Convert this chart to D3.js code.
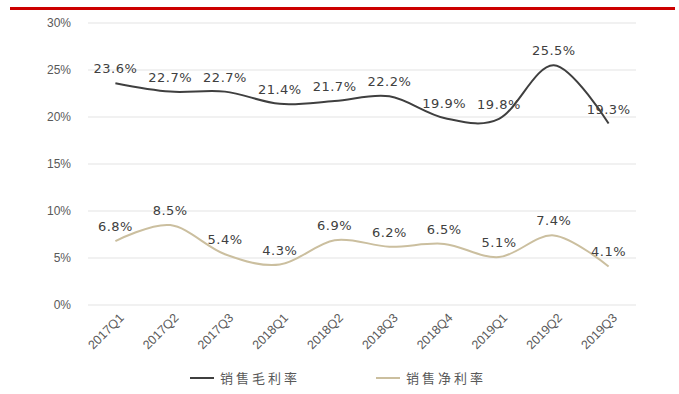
<!DOCTYPE html>
<html>
<head>
<meta charset="utf-8">
<script src="https://cdn.jsdelivr.net/npm/d3@7"></script>
<style>
  body { margin: 0; background: #fff; }
</style>
</head>
<body>
<div id="chart"></div>
<script>
const quarters = ["2017Q1", "2017Q2", "2017Q3", "2018Q1", "2018Q2", "2018Q3", "2018Q4", "2019Q1", "2019Q2", "2019Q3"];
const grossMargin = [23.6, 22.7, 22.7, 21.4, 21.7, 22.2, 19.9, 19.8, 25.5, 19.3];
const netMargin = [6.8, 8.5, 5.4, 4.3, 6.9, 6.2, 6.5, 5.1, 7.4, 4.1];
const yTicks = [0, 5, 10, 15, 20, 25, 30];
const seriesNames = ["销售毛利率", "销售净利率"];

const width = 679, height = 394;
const margin = { top: 23, right: 43, bottom: 89, left: 88 };

const svg = d3.select("#chart").append("svg")
  .attr("width", width)
  .attr("height", height)
  .style("font-family", "'DejaVu Sans', sans-serif");

// red rule at the top
svg.append("rect")
  .attr("x", 10).attr("y", 7)
  .attr("width", 665).attr("height", 3)
  .attr("fill", "#cc0000");

const x = d3.scaleBand()
  .domain(quarters)
  .range([margin.left, width - margin.right]);

const y = d3.scaleLinear()
  .domain([0, 30])
  .range([height - margin.bottom, margin.top]);

// gridlines
svg.append("g")
  .selectAll("line")
  .data(yTicks)
  .join("line")
  .attr("x1", margin.left)
  .attr("x2", width - margin.right)
  .attr("y1", d => y(d))
  .attr("y2", d => y(d))
  .attr("stroke", "#e3e3e3")
  .attr("stroke-width", 1);

// y axis labels
const yAxis = svg.append("g")
  .attr("transform", `translate(${margin.left - 14},0)`)
  .call(d3.axisLeft(y).tickValues(yTicks).tickFormat(d => d + "%").tickSize(0));
yAxis.select(".domain").remove();
yAxis.selectAll("text")
  .attr("fill", "#595959")
  .style("font-size", "12px");

// x axis labels
const xAxis = svg.append("g")
  .attr("transform", `translate(0,${y(0) + 8})`)
  .call(d3.axisBottom(x).tickSize(0));
xAxis.select(".domain").remove();
xAxis.selectAll("text")
  .attr("fill", "#595959")
  .style("font-size", "12.5px")
  .attr("text-anchor", "end")
  .attr("dx", "0.2em")
  .attr("dy", "0.6em")
  .attr("transform", "rotate(-45)");

const line = d3.line()
  .x((d, i) => x(quarters[i]) + x.bandwidth() / 2)
  .y(d => y(d))
  .curve(d3.curveCatmullRom.alpha(0));

const series = [
  { name: seriesNames[0], values: grossMargin, color: "#3f3f3f" },
  { name: seriesNames[1], values: netMargin, color: "#cbbf9f" },
];

series.forEach(s => {
  svg.append("path")
    .datum(s.values)
    .attr("fill", "none")
    .attr("stroke", s.color)
    .attr("stroke-width", 2)
    .attr("d", line);

  svg.append("g")
    .selectAll("text")
    .data(s.values)
    .join("text")
    .attr("x", (d, i) => x(quarters[i]) + x.bandwidth() / 2)
    .attr("y", d => y(d) - 10)
    .attr("text-anchor", "middle")
    .attr("fill", "#404040")
    .style("font-size", "13px")
    .style("letter-spacing", "0.5px")
    .text(d => d.toFixed(1) + "%");
});

// legend
const legend = svg.append("g")
  .selectAll("g")
  .data(series)
  .join("g")
  .attr("transform", (d, i) => `translate(${190 + i * 186},378)`);

legend.append("line")
  .attr("x1", 0).attr("x2", 24)
  .attr("stroke", d => d.color)
  .attr("stroke-width", 2);

legend.append("text")
  .attr("x", 30)
  .attr("dy", "0.35em")
  .attr("fill", "#595959")
  .style("font-family", "'Noto Sans CJK SC', sans-serif")
  .style("font-size", "13px")
  .style("letter-spacing", "3px")
  .text(d => d.name);
</script>
</body>
</html>
